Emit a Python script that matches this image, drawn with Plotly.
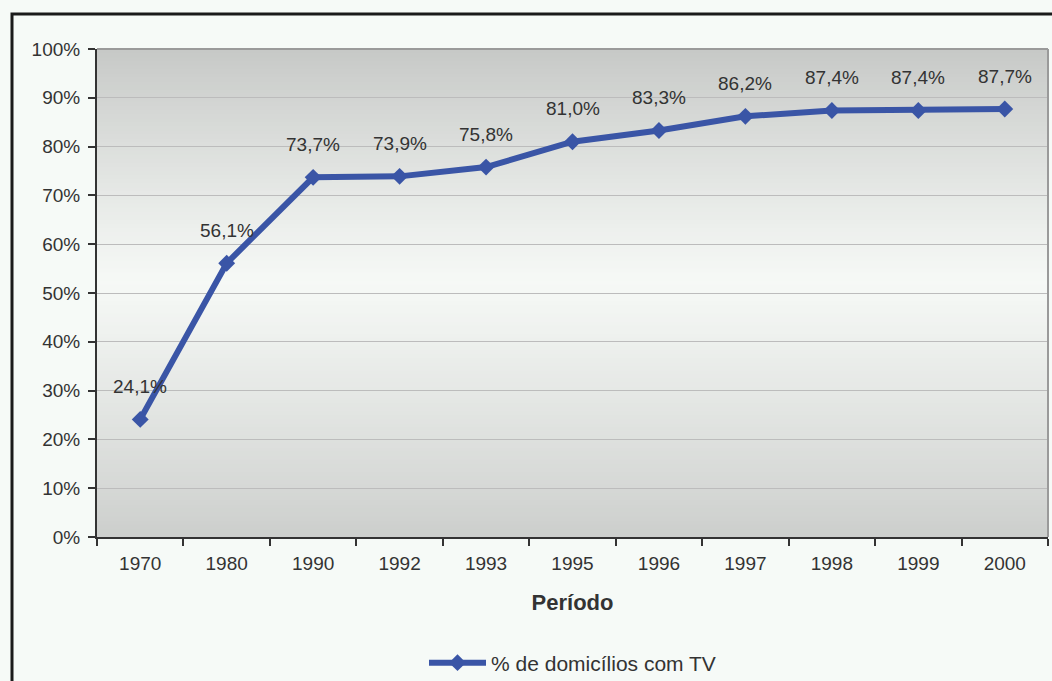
import plotly.graph_objects as go

periods = ["1970", "1980", "1990", "1992", "1993", "1995", "1996", "1997", "1998", "1999", "2000"]
tv_share = [24.1, 56.1, 73.7, 73.9, 75.8, 81.0, 83.3, 86.2, 87.4, 87.4, 87.7]
value_labels = ["24,1%", "56,1%", "73,7%", "73,9%", "75,8%", "81,0%", "83,3%", "86,2%", "87,4%", "87,4%", "87,7%"]
y_ticks = [0, 10, 20, 30, 40, 50, 60, 70, 80, 90, 100]
y_tick_labels = [f"{v}%" for v in y_ticks]
series_name = "% de domicílios com TV"

W, H = 1052, 681
L, R, T, B = 97, 4, 49, 144
FONT = "Liberation Sans, Arial, sans-serif"
LINE_COLOR = "#3a55a6"
TXT = "#333333"

fig = go.Figure()
fig.add_trace(go.Scatter(
    x=periods, y=tv_share, mode="lines+markers", name=series_name,
    line=dict(color=LINE_COLOR, width=6),
    marker=dict(symbol="diamond", size=13, color=LINE_COLOR),
))

# value labels above each point (category index on the x axis)
annotations = []
for i, (v, lab) in enumerate(zip(tv_share, value_labels)):
    annotations.append(dict(x=i, y=v, xref="x", yref="y", text=lab, showarrow=False,
                            yshift=33, xanchor="center", yanchor="middle",
                            font=dict(family=FONT, size=19, color=TXT)))

def lerp(c1, c2, t):
    return tuple(round(a + (b - a) * t) for a, b in zip(c1, c2))

top_c = (199, 201, 199)
mid_c = (246, 249, 246)
bot_c = (204, 206, 204)
mid_pos = 0.52
n = 120
shapes = []
for i in range(n):
    y0 = i / n
    y1 = (i + 1) / n
    yc = (y0 + y1) / 2
    if yc < mid_pos:
        c = lerp(bot_c, mid_c, (yc / mid_pos) ** 0.9)
    else:
        c = lerp(mid_c, top_c, ((yc - mid_pos) / (1 - mid_pos)) ** 1.1)
    col = "rgb(%d,%d,%d)" % c
    shapes.append(dict(type="rect", xref="paper", yref="paper", x0=0, x1=1, y0=y0, y1=y1 + 0.002,
                       fillcolor=col, line=dict(width=0), layer="below"))

pw = W - L - R
ph = H - T - B
shapes.append(dict(type="line", xref="paper", yref="paper", x0=0, x1=1, y0=1, y1=1,
                   line=dict(color="#9a9a9a", width=2), layer="above"))
shapes.append(dict(type="line", xref="paper", yref="paper", x0=1, x1=1, y0=0, y1=1,
                   line=dict(color="#9a9a9a", width=2), layer="above"))
fx0 = (12 - L) / pw
fy1 = (H - B - 14) / ph
shapes.append(dict(type="rect", xref="paper", yref="paper", x0=fx0, x1=1.2, y0=-0.5, y1=fy1,
                   fillcolor="rgba(0,0,0,0)", line=dict(color="#1a1a1a", width=3), layer="above"))

fig.update_layout(
    width=W, height=H,
    margin=dict(l=L, r=R, t=T, b=B, autoexpand=False),
    paper_bgcolor="#f6faf7",
    plot_bgcolor="#eeeeee",
    shapes=shapes,
    annotations=annotations,
    font=dict(family=FONT, size=19, color=TXT),
    showlegend=True,
    legend=dict(orientation="h", x=0.5, xanchor="center", y=(H - B - 663) / ph, yanchor="middle",
                itemwidth=57,
                font=dict(family=FONT, size=21, color=TXT), bgcolor="rgba(0,0,0,0)"),
    xaxis=dict(
        type="category", tickson="boundaries", ticks="outside", ticklen=7, tickwidth=2,
        tickcolor=TXT, showline=True, linecolor=TXT, linewidth=2,
        showgrid=False, tickfont=dict(family=FONT, size=19, color=TXT),
        ticklabelstandoff=8, automargin=False,
        title=dict(text="<b>Período</b>", font=dict(family=FONT, size=22, color=TXT), standoff=22),
        range=[-0.5, len(periods) - 0.5],
    ),
    yaxis=dict(
        range=[0, 100], tickvals=y_ticks, ticktext=y_tick_labels,
        ticks="outside", ticklen=7, tickwidth=2, tickcolor=TXT,
        showline=True, linecolor=TXT, linewidth=2, automargin=False,
        showgrid=True, gridcolor="#bcbcbc", gridwidth=1, zeroline=False,
        tickfont=dict(family=FONT, size=19, color=TXT), ticklabelstandoff=4,
    ),
)

fig.write_html("out.html")
